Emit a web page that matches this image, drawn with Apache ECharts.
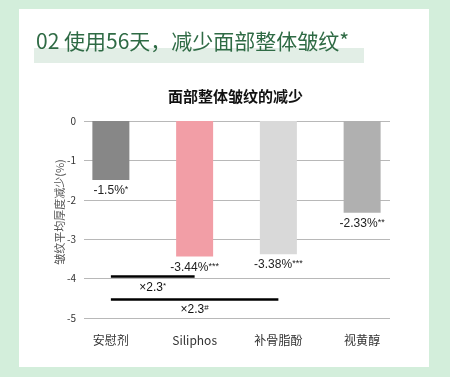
<!DOCTYPE html>
<html>
<head>
<meta charset="utf-8">
<script src="https://cdn.jsdelivr.net/npm/echarts@6/dist/echarts.min.js"></script>
<style>
  html, body { margin: 0; padding: 0; background: #d3eedb; }
  #chart { width: 450px; height: 377px; }
</style>
</head>
<body>
<div id="chart"></div>
<script>
// 数据
const categories = ['安慰剂', 'Siliphos', '补骨脂酚', '视黄醇'];
const values = [-1.5, -3.44, -3.38, -2.33];
const stars = ['*', '***', '***', '**'];
const barColors = ['#878787', '#f29ea6', '#d9d9d9', '#b0b0b0'];

const font = '"Noto Sans CJK SC", "Noto Sans", sans-serif';
const myChart = echarts.init(document.getElementById('chart'));

const option = {
    animation: false,
    backgroundColor: '#d3eedb',
    graphic: [
        // 白色卡片
        { type: 'rect', shape: { x: 19, y: 9, width: 410, height: 358 }, style: { fill: '#ffffff' }, z: -10 },
        // 标题底色
        { type: 'rect', shape: { x: 34, y: 48, width: 330, height: 15 }, style: { fill: '#e2eee6' }, z: -9 },
        {
            type: 'text', left: 36, top: 31,
            style: { text: '02 使用56天，减少面部整体皱纹*', fill: '#2f6b45', font: '21px ' + font }
        },
        {
            type: 'text', left: 168, top: 89,
            style: { text: '面部整体皱纹的减少', fill: '#111', font: 'bold 15px ' + font }
        },
        // 纵轴名称（从下往上读）
        {
            type: 'text', x: 60, y: 212, rotation: Math.PI / 2,
            style: {
                text: '皱纹平均厚度减少(%)', fill: '#555', font: '11px ' + font,
                align: 'center', verticalAlign: 'middle'
            }
        }
    ],
    grid: [
        { left: 69, right: 46, top: 121, bottom: 59 },
        { left: 84, right: 60, top: 121, bottom: 59 }
    ],
    xAxis: [
        {
            type: 'category', gridIndex: 0, data: categories,
            axisLine: { show: false }, axisTick: { show: false },
            axisLabel: { margin: 16, color: '#333', fontSize: 12, fontFamily: font }
        },
        { type: 'value', gridIndex: 1, show: false }
    ],
    yAxis: [
        { type: 'value', gridIndex: 0, min: -5, max: 0, show: false },
        {
            type: 'value', gridIndex: 1, min: -5, max: 0, interval: 1,
            axisLine: { show: false }, axisTick: { show: false },
            axisLabel: { color: '#333', fontSize: 10, margin: 8, fontFamily: font },
            splitLine: { lineStyle: { color: '#b8b8b8', width: 1 } }
        }
    ],
    series: [{
        type: 'bar', xAxisIndex: 0, yAxisIndex: 0,
        barWidth: 37,
        data: values.map((v, i) => ({
            value: v,
            itemStyle: { color: barColors[i] },
            label: {
                show: true, position: 'bottom', distance: 5,
                formatter: () => '{v|' + v + '%}{s|' + stars[i] + '}',
                rich: {
                    v: { fontSize: 12, color: '#222', fontFamily: 'Liberation Sans, Arial' },
                    s: { fontSize: 9, color: '#222', verticalAlign: 'top', padding: [0, 0, 3, 0] }
                }
            }
        })),
        markLine: {
            silent: true, symbol: 'none',
            lineStyle: { color: '#000', width: 2.5, type: 'solid' },
            label: {
                position: 'insideMiddleBottom', distance: 5,
                rich: {
                    v: { fontSize: 12, color: '#111', fontFamily: 'Liberation Sans, Arial' },
                    s: { fontSize: 8, color: '#111', verticalAlign: 'top', padding: [0, 0, 4, 0] }
                }
            },
            data: [
                [{ coord: ['安慰剂', -3.95], label: { formatter: '{v|×2.3}{s|*}' } }, { coord: ['Siliphos', -3.95] }],
                [{ coord: ['安慰剂', -4.52], label: { formatter: '{v|×2.3}{s|#}' } }, { coord: ['补骨脂酚', -4.52] }]
            ]
        }
    }]
};

myChart.setOption(option);
</script>
</body>
</html>
